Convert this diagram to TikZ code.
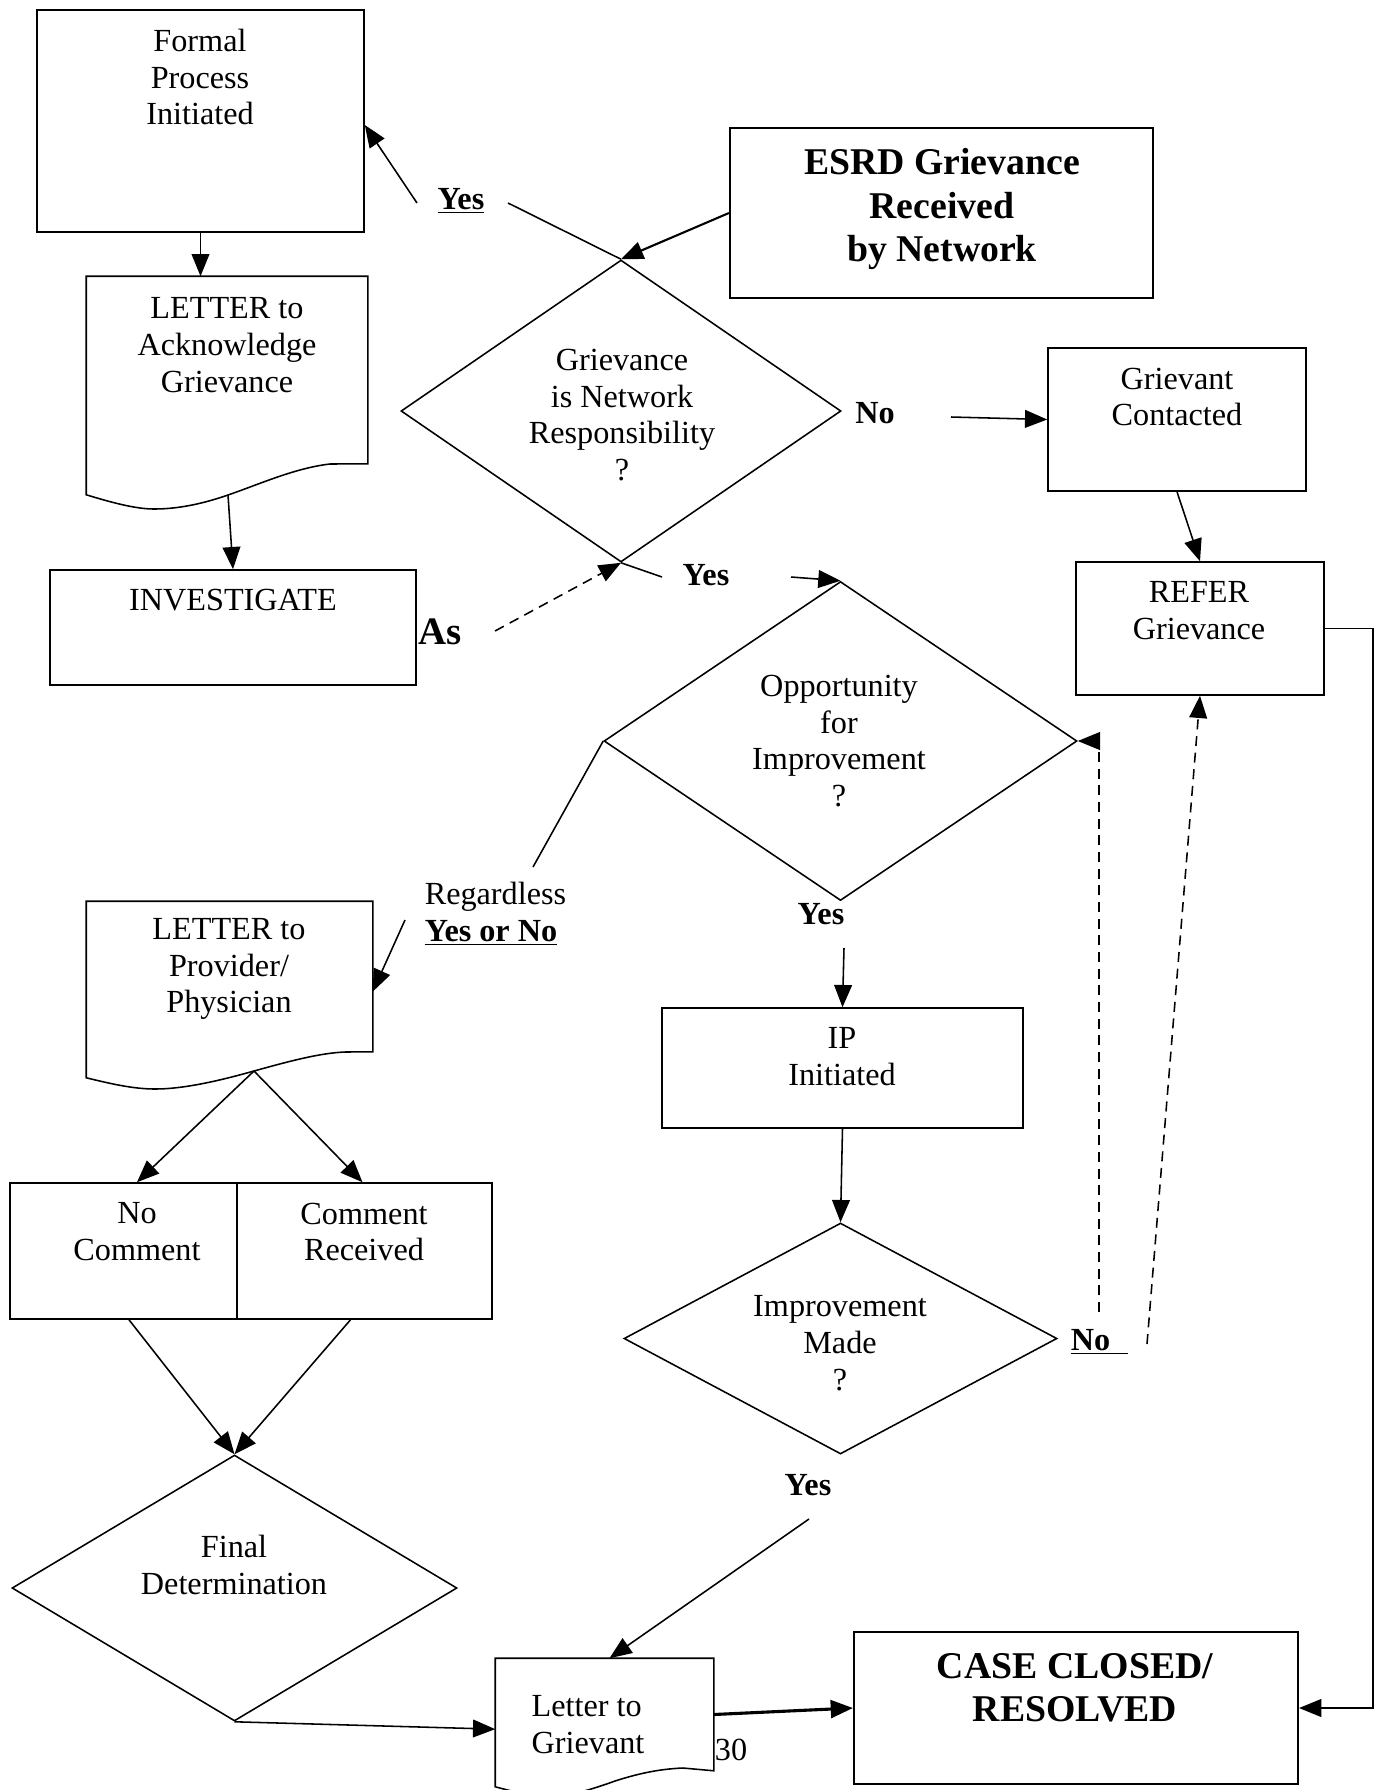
\documentclass[tikz,border=0pt]{standalone}
\usepackage{fontspec}
\setmainfont{Liberation Serif}
\usetikzlibrary{shapes.geometric,arrows.meta,calc}
\begin{document}
\begin{tikzpicture}[x=0.45pt,y=-0.45pt,
  font=\fontsize{14.5}{16.6}\selectfont,
  line width=0.7pt,
  bx/.style 2 args={rectangle,draw,inner sep=0,minimum width=#1*0.45pt,minimum height=#2*0.45pt},
  dmd/.style 2 args={diamond,draw,inner sep=0,minimum width=#1*0.45pt,minimum height=#2*0.45pt},
  ghost/.style 2 args={rectangle,inner sep=0,minimum width=#1*0.45pt,minimum height=#2*0.45pt},
  txt/.style={align=center,inner sep=0},
  lbl/.style={inner sep=0,font=\fontsize{14.5}{16.6}\bfseries\selectfont},
  big/.style={align=center,inner sep=0,font=\fontsize{17}{19.4}\bfseries\selectfont},
  arr/.style={-{Triangle[length=10pt,width=8pt]}},
  dsh/.style={dash pattern=on 4.5pt off 3pt},
  heavy/.style={line width=0.95pt}]
\useasboundingbox (0,0) rectangle (1381,1790);
\clip (0,0) rectangle (1381,1790);
\fill[white] (0,0) rectangle (1381,1790);

% ---- shapes ----
\node[bx={327}{222}] (formal) at (200.5,121) {};
\node[txt] (formalT) at (200,77) {Formal\\Process\\Initiated};

\node[bx={423}{170},heavy] (esrd) at (941.5,213) {};
\node[big] (esrdT) at (942,209) {ESRD Grievance\\Received\\by Network};

\node[dmd={440}{302}] (d1) at (621,411) {};
\node[txt] (d1T) at (622,415) {Grievance\\is Network\\Responsibility\\?};

\node[ghost={280}{186}] (ack) at (227,370) {};
\draw (ack.south east) -- (ack.north east) -- (ack.north west) -- ($(ack.south west)+(0,31)$)
  .. controls (110,502) and (135,509) .. (154,509)
  .. controls (180,509) and (205,503) .. (228,495) coordinate (ackw)
  .. controls (260,484) and (295,468) .. (330,464) -- cycle;
\node[txt] (ackT) at (227,345) {LETTER to\\Acknowledge\\Grievance};

\node[bx={366}{115}] (inv) at (233,627.5) {};
\node[txt] (invT) at (233,600) {INVESTIGATE};

\node[bx={258}{143}] (gc) at (1177,419.5) {};
\node[txt] (gcT) at (1177,397) {Grievant\\Contacted};

\node[bx={248}{133}] (refer) at (1200,628.5) {};
\node[txt] (referT) at (1199,611) {REFER\\Grievance};

\node[dmd={473}{319}] (d2) at (840.5,741) {};
\node[txt] (d2T) at (839,741) {Opportunity\\for\\Improvement\\?};

\node[ghost={285}{149}] (prov) at (229.5,976.5) {};
\draw (prov.south east) -- (prov.north east) -- (prov.north west) -- ($(prov.south west)+(0,26)$)
  .. controls (108,1083) and (132,1089) .. (155,1089)
  .. controls (185,1089) and (222,1080) .. (254,1071) coordinate (provw)
  .. controls (290,1061) and (320,1053) .. (345,1052) -- cycle;
\node[txt] (provT) at (229,969) {LETTER to\\Provider/\\Physician};

\node[bx={361}{120}] (ip) at (842.5,1068) {};
\node[txt] (ipT) at (842,1057) {IP\\Initiated};

\node[dmd={433}{231}] (im) at (840.5,1338.5) {};
\node[txt] (imT) at (840,1343) {Improvement\\Made\\?};

\node[bx={254}{136}] (nc) at (137,1251) {};
\node[bx={255}{136},fill=white] (cr) at (364.5,1251) {};
\node[txt] (ncT) at (137,1232) {No\\Comment};
\node[txt] (crT) at (364,1232) {Comment\\Received};

\node[dmd={445}{266}] (fd) at (234.5,1588) {};
\node[txt] (fdT) at (234,1565) {Final\\Determination};

\node[ghost={217}{111}] (lg) at (604.5,1714.5) {};
\draw (lg.south east) -- (lg.north east) -- (lg.north west) -- ($(lg.south west)+(0,16)$)
  .. controls (515,1792) and (530,1796) .. (550,1796)
  .. controls (570,1796) and (590,1790) .. (615,1781)
  .. controls (640,1773) and (660,1769) .. (683,1768) -- cycle;
\node[txt,align=left] (lgT) at (588,1725) {Letter to\\Grievant};

\node[bx={444}{152},heavy] (case) at (1076,1708) {};
\node[big] (caseT) at (1075,1688) {CASE CLOSED/\\RESOLVED};

% ---- labels ----
\node[lbl] (y1) at (461,201) {\underline{Yes}};
\node[lbl,font=\fontsize{17.5}{20}\bfseries\selectfont] (as) at (440,632) {As};
\node[lbl] (no1) at (875,413) {No};
\node[lbl] (y2) at (706,575) {Yes};
\node[txt,align=left,anchor=west] (rg) at (424,914) {Regardless\\\textbf{\underline{Yes or No}}};
\node[lbl] (y3) at (821,914) {Yes};
\node[lbl] (y4) at (808,1485) {Yes};
\node[lbl,anchor=west] (no2) at (1070,1342) {\underline{No\hspace{8pt}}};
\node[inner sep=0] (pg) at (731,1750) {30};

% ---- free ends ----
\coordinate (y1a) at (508,203);
\coordinate (y1b) at (417,203);
\coordinate (noA) at (951,417);
\coordinate (y2a) at (662,577);
\coordinate (y2b) at (791,577);
\coordinate (asA) at (495,631);
\coordinate (rgA) at (533,867);
\coordinate (rgB) at (405,920);
\coordinate (y3a) at (844,948);
\coordinate (y4a) at (809,1519);
\coordinate (no2a) at (1099,1312);
\coordinate (no2b) at (1147,1344);

% ---- connectors ----
\draw[arr] (formal.south) -- (formal.south |- ack.north);
\draw[arr] (ackw) -- (inv.north);
\draw[arr,heavy] (esrd.west) -- (d1.north);
\draw (d1.north) -- (y1a);
\draw[arr] (y1b) -- ($(formal.east)+(0,4)$);
\draw[arr] (noA) -- (gc.west);
\draw[arr] (gc.south) -- (refer.north);
\draw[arr] (refer.east) -- ++(48,0) |- (case.east);
\draw (d1.south) -- (y2a);
\draw[arr] (y2b) -- (d2.north);
\draw[arr,dsh] (asA) -- (d1.south);
\draw (d2.west) -- (rgA);
\draw[arr] (rgB) -- ($(prov.north east)!0.6!(prov.south east)$);
\draw[arr] (y3a) -- (ip.north);
\draw[arr] (ip.south) -- (im.north);
\draw[arr] (y4a) -- ($(lg.north)+(5,0)$);
\draw[arr,dsh] (no2a) -- (no2a |- d2.east) -- (d2.east);
\draw[arr,dsh] (no2b) -- (refer.south);
\draw[arr] (provw) -- (nc.north);
\draw[arr] (provw) -- ($(cr.north)+(-2,0)$);
\draw[arr] ($(nc.south)+(-8,0)$) -- (fd.north);
\draw[arr] ($(cr.south)+(-14,0)$) -- (fd.north);
\draw[arr] (fd.south) -- ($(lg.north west)!0.63!(lg.south west)$);
\draw[arr,line width=1.4pt] (lg.east) -- (case.west);
\end{tikzpicture}
\end{document}
